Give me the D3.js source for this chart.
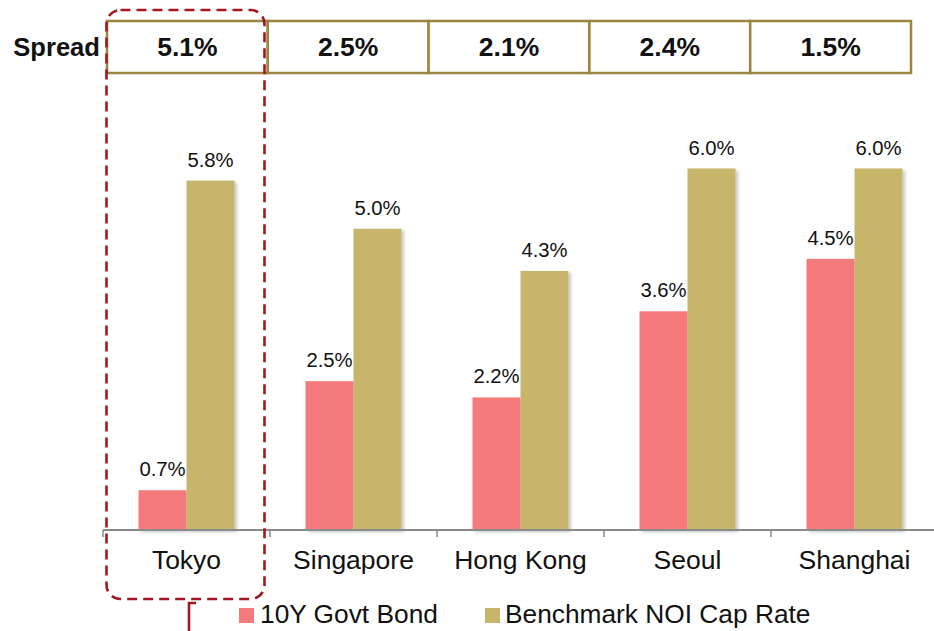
<!DOCTYPE html>
<html>
<head>
<meta charset="utf-8">
<script src="https://cdn.jsdelivr.net/npm/d3@7"></script>
<style>
  html, body { margin: 0; padding: 0; background: #fff; }
  svg { display: block; font-family: "Liberation Sans", Arial, sans-serif; }
</style>
</head>
<body>
<svg id="chart" width="934" height="631"></svg>
<script>
const categories = ["Tokyo", "Singapore", "Hong Kong", "Seoul", "Shanghai"];
const govtBond = [0.66, 2.47, 2.2, 3.63, 4.5];
const capRate = [5.8, 5.0, 4.3, 6.0, 6.0];
const spreads = ["5.1%", "2.5%", "2.1%", "2.4%", "1.5%"];
const seriesNames = ["10Y Govt Bond", "Benchmark NOI Cap Rate"];
const colors = ["#F47A7C", "#C8B56C"];

const svg = d3.select("#chart");
const defs = svg.append("defs");
const f = defs.append("filter").attr("id", "shadow").attr("x", "-20%").attr("y", "-5%").attr("width", "150%").attr("height", "115%");
f.append("feDropShadow").attr("dx", 2.5).attr("dy", 2).attr("stdDeviation", 1.8)
  .attr("flood-color", "#000").attr("flood-opacity", 0.22);

const x = d3.scaleBand().domain(categories).range([103, 938]).paddingInner(0).paddingOuter(0);
const y = d3.scaleLinear().domain([0, 6]).range([530, 168.5]);
const sub = d3.scaleBand().domain(seriesNames).range([0, 96]);
const barOffset = x.bandwidth() / 2 - 48;

const data = categories.map((c, i) => ({ cat: c, vals: [govtBond[i], capRate[i]] }));

// bars
const groups = svg.append("g").selectAll("g").data(data).join("g")
  .attr("transform", d => `translate(${x(d.cat) + barOffset},0)`);

groups.selectAll("rect").data(d => d.vals.map((v, j) => ({ v, s: seriesNames[j], j })))
  .join("rect")
  .attr("x", d => sub(d.s))
  .attr("width", sub.bandwidth())
  .attr("y", d => y(d.v))
  .attr("height", d => y(0) - y(d.v))
  .attr("fill", d => colors[d.j])
  .attr("filter", "url(#shadow)");

groups.selectAll("text").data(d => d.vals.map((v, j) => ({ v, s: seriesNames[j] })))
  .join("text")
  .attr("x", d => sub(d.s) + sub.bandwidth() / 2)
  .attr("y", d => y(d.v) - 14)
  .attr("text-anchor", "middle")
  .attr("font-size", 20.3)
  .attr("fill", "#111")
  .text(d => d3.format(".1f")(d.v) + "%");

// x axis
const axis = d3.axisBottom(x).tickSize(0).tickPadding(0).tickFormat("");
const ax = svg.append("g").attr("transform", "translate(0,530)").call(axis);
ax.select(".domain").attr("stroke", "#8a8a8a").attr("stroke-width", 2).attr("d", "M103,0H934");
const bounds = categories.map(c => x(c)).concat([x.range()[1]]);
ax.selectAll(".bound").data(bounds).join("line").attr("class", "bound")
  .attr("x1", d => d).attr("x2", d => d).attr("y1", 0).attr("y2", 7)
  .attr("stroke", "#8a8a8a").attr("stroke-width", 1.5);
svg.append("g").selectAll("text").data(categories).join("text")
  .attr("x", d => x(d) + x.bandwidth() / 2)
  .attr("y", 569)
  .attr("text-anchor", "middle")
  .attr("font-size", 26.5)
  .attr("fill", "#111")
  .text(d => d);

// spread table
const tx = d3.scaleBand().domain(categories).range([107, 911]);
const table = svg.append("g");
table.selectAll("rect").data(categories).join("rect")
  .attr("x", d => tx(d)).attr("y", 21)
  .attr("width", tx.bandwidth()).attr("height", 52)
  .attr("fill", "#fff").attr("stroke", "#9C8540").attr("stroke-width", 2.5);
table.selectAll("text").data(categories).join("text")
  .attr("x", d => tx(d) + tx.bandwidth() / 2)
  .attr("y", 56)
  .attr("text-anchor", "middle")
  .attr("font-size", 26.5).attr("font-weight", "bold").attr("fill", "#111")
  .text((d, i) => spreads[i]);
svg.append("text").attr("x", 100).attr("y", 56).attr("text-anchor", "end")
  .attr("font-size", 25.6).attr("font-weight", "bold").attr("fill", "#111").text("Spread");

// highlight dashed box
svg.append("rect")
  .attr("x", 106.5).attr("y", 10).attr("width", 158).attr("height", 589)
  .attr("rx", 14).attr("ry", 14)
  .attr("fill", "none").attr("stroke", "#A0191F").attr("stroke-width", 2.6)
  .attr("stroke-dasharray", "10,6");
svg.append("path").attr("d", "M196,603H189V631")
  .attr("fill", "none").attr("stroke", "#A0191F").attr("stroke-width", 2.6);

// legend
const legend = svg.append("g");
const legX = [239, 485];
const txtX = [260, 505];
seriesNames.forEach((s, i) => {
  legend.append("rect").attr("x", legX[i]).attr("y", 608).attr("width", 15).attr("height", 15).attr("fill", colors[i]);
  legend.append("text").attr("x", txtX[i]).attr("y", 623).attr("font-size", 26.3).attr("fill", "#111").text(s);
});
</script>
</body>
</html>
